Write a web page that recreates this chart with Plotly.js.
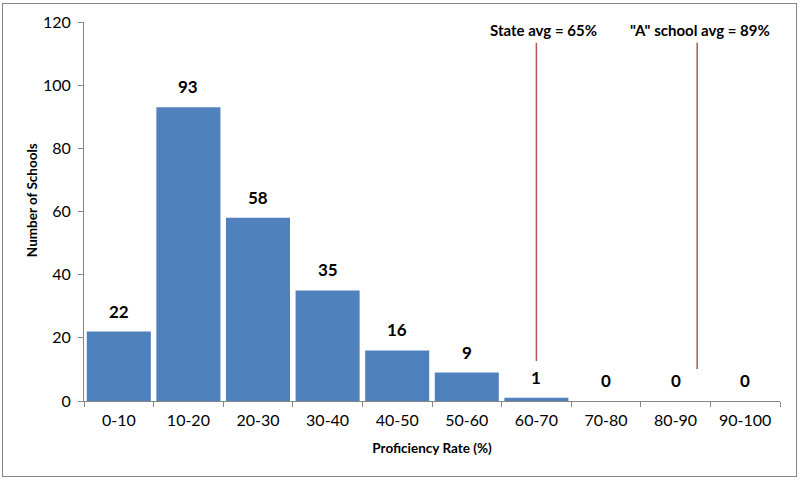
<!DOCTYPE html>
<html>
<head>
<meta charset="utf-8">
<script src="https://cdn.plot.ly/plotly-3.0.1.min.js"></script>
<style>
  html, body { margin: 0; padding: 0; background: #fff; }
  #wrap { position: relative; width: 800px; height: 480px; }
  #chart { width: 800px; height: 480px; }
  #frame { position: absolute; left: 2px; top: 3px; width: 793px; height: 472px;
           border: 1px solid #868686; pointer-events: none; }
</style>
</head>
<body>
<div id="wrap">
  <div id="chart"></div>
  <div id="frame"></div>
</div>
<script>
// ---- data ----
const categories = ["0-10","10-20","20-30","30-40","40-50","50-60","60-70","70-80","80-90","90-100"];
const binCenters = [5, 15, 25, 35, 45, 55, 65, 75, 85, 95];
const schoolCounts = [22, 93, 58, 35, 16, 9, 1, 0, 0, 0];
const refLineLabels = ["State avg = 65%", "\"A\" school avg = 89%"];
const refLineX = [65, 88.1];
const refLineTop = [113.4, 113.4];
const refLineBottom = [12.7, 10.1];
const refLabelX = [66, 88.5];

const FONT = "Lato, 'Open Sans', sans-serif";
const TXT = "#000000";
const AX = "#868686";

const trace = {
  type: "bar",
  x: binCenters,
  y: schoolCounts,
  width: 9.2,
  marker: { color: "#4F81BD" },
  hoverinfo: "skip"
};

const annotations = [];
schoolCounts.forEach((v, i) => {
  annotations.push({
    x: binCenters[i], y: v, xref: "x", yref: "y",
    text: "<b>" + String(v) + "</b>", showarrow: false, yanchor: "bottom", yshift: 8,
    font: { family: FONT, size: 17, color: TXT }
  });
});
refLineLabels.forEach((t, i) => {
  annotations.push({
    x: refLabelX[i], y: 117.5, xref: "x", yref: "y",
    text: "<b>" + t + "</b>", showarrow: false,
    font: { family: FONT, size: 15, color: TXT }
  });
});
// y-axis title as annotation (positioned like the reference)
annotations.push({
  xref: "paper", yref: "paper", x: -0.0747, y: 0.530,
  xanchor: "center", yanchor: "middle", textangle: -90,
  text: "<b>Number of Schools</b>", showarrow: false,
  font: { family: FONT, size: 13.5, color: TXT }
});

const shapes = refLineX.map((x, i) => ({
  type: "line", xref: "x", yref: "y",
  x0: x, x1: x, y0: refLineBottom[i], y1: refLineTop[i],
  line: { color: "#B05757", width: 1.5 }
}));

const layout = {
  width: 800, height: 480,
  margin: { l: 84, r: 20, t: 22, b: 79 },
  paper_bgcolor: "#ffffff", plot_bgcolor: "#ffffff",
  showlegend: false,
  font: { family: FONT, color: TXT },
  xaxis: {
    range: [0, 100],
    tickmode: "array", tickvals: binCenters, ticktext: categories,
    ticks: "", showgrid: false, zeroline: false,
    showline: true, linecolor: AX, linewidth: 1,
    tickfont: { family: FONT, size: 16, color: TXT },
    ticklabelstandoff: 5,
    minor: { tickmode: "linear", tick0: 0, dtick: 10, ticks: "outside", ticklen: 5, tickcolor: AX, tickwidth: 1, showgrid: false },
    title: { text: "<b>Proficiency Rate (%)</b>", font: { family: FONT, size: 13.5, color: TXT }, standoff: 15 },
    fixedrange: true
  },
  yaxis: {
    range: [0, 120], dtick: 20, tick0: 0,
    ticks: "outside", ticklen: 5, tickcolor: AX,
    showgrid: false, zeroline: false,
    showline: true, linecolor: AX, linewidth: 1,
    tickfont: { family: FONT, size: 16, color: TXT },
    ticklabelstandoff: 4,
    fixedrange: true
  },
  annotations: annotations,
  shapes: shapes
};

Plotly.newPlot("chart", [trace], layout, { displayModeBar: false, staticPlot: true });
</script>
</body>
</html>
